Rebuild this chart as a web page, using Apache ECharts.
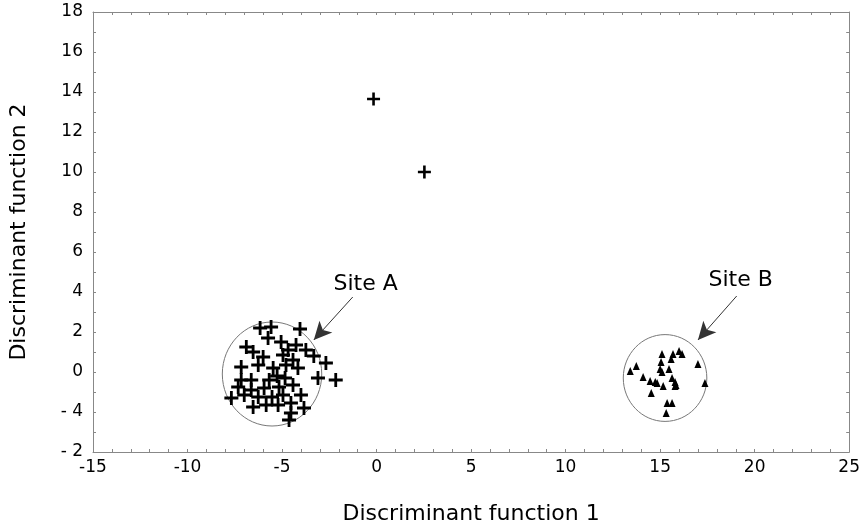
<!DOCTYPE html>
<html>
<head>
<meta charset="utf-8">
<script src="https://cdn.jsdelivr.net/npm/echarts@6/dist/echarts.min.js"></script>
<style>
html,body{margin:0;padding:0;background:#fff;}
#chart{width:863px;height:530px;}
</style>
</head>
<body>
<div id="chart"></div>
<script>
// site A samples (plus markers)
var siteA = [
	[-6.16,2.2],[-5.58,2.25],[-4.05,2.15],[-5.74,1.7],[-5.05,1.5],[-6.89,1.25],
	[-6.53,1.0],[-4.68,1.1],[-3.74,1.1],[-4.95,0.85],[-3.32,0.8],[-4.42,0.6],
	[-7.16,0.25],[-6.26,0.35],[-5.47,0.2],[-2.68,0.45],[-4.16,0.2],[-3.1,-0.3],
	[-2.16,-0.4],[-7.32,-0.75],[-6.63,-0.9],[-5.95,-0.8],[-5.16,-0.75],[-4.42,-0.65],
	[-7.0,-1.15],[-7.68,-1.3],[-6.26,-1.25],[-4.95,-1.15],[-6.53,-1.75],[-5.84,-1.65],
	[-5.21,-1.65],[-4.53,-1.55],[-3.84,-1.8],[-4.53,-2.05],[-4.63,-2.4],
	[-6.0,0.75],[-5.26,-0.2],[-4.84,-0.3],[-5.68,-0.4],[-5.53,-1.25],[-4.0,-1.15],
	[-4.79,0.35],[-6.63,-0.4],[-4.26,1.35],[-7.16,-0.4]
];
// two outliers, same marker
var outliers = [[-0.16,13.65],[2.53,10.0]];
// site B samples (triangles)
var siteB = [
	[15.1,0.9],[15.68,0.9],[16.0,1.05],[16.16,0.9],[15.05,0.5],[15.58,0.65],
	[13.74,0.3],[13.42,0.05],[15.0,0.15],[15.47,0.15],[15.1,0.0],[17.0,0.4],
	[14.1,-0.25],[14.47,-0.45],[14.74,-0.5],[14.84,-0.55],[15.63,-0.3],[15.79,-0.5],
	[15.84,-0.65],[15.16,-0.7],[15.79,-0.7],[17.37,-0.55],[14.53,-1.05],[15.37,-1.55],
	[15.63,-1.55],[15.32,-2.05]
];
// circles: centre x, centre y, radius x, radius y
var circles = [[-5.53,-0.1,2.63,2.6],[15.26,-0.3,2.21,2.17]];
// annotation texts and arrows (from -> to)
var siteNames = ['Site A','Site B'];
var namePos = [[-0.58,4.4],[19.26,4.6]];
var arrows = [[[-1.26,3.75],[-3.32,1.6]],[[19.05,3.8],[17.0,1.6]]];
// y tick labels as printed
var yTickLabels = {'18':'18','16':'16','14':'14','12':'12','10':'10','8':'8','6':'6','4':'4','2':'2','0':'0','-2':'- 4','-4':'- 2'};

var plus = 'path://M4,0h2v4h4v2h-4v4h-2v-4h-4v-2h4z';
var font = 'DejaVu Sans, sans-serif';
var frameColor = '#888';

var myChart = echarts.init(document.getElementById('chart'));

var markLineData = [];
for(var i=0;i<arrows.length;i++){
	markLineData.push([{coord:arrows[i][0]},{coord:arrows[i][1]}]);
}
var labelData = [];
for(var i=0;i<siteNames.length;i++){
	labelData.push({name:siteNames[i],value:namePos[i]});
}

var option = {
	animation:false,
	grid:{left:91,right:12,top:12,bottom:78},
	xAxis:[{
		type:'value',min:-15,max:25,interval:5,
		name:'Discriminant function 1',nameLocation:'middle',nameGap:51,
		nameTextStyle:{fontFamily:font,fontSize:22,color:'#000'},
		axisLine:{onZero:false,lineStyle:{color:frameColor,width:1}},
		axisTick:{inside:true,length:3,lineStyle:{color:frameColor}},
		minorTick:{show:true,splitNumber:5,length:3,lineStyle:{color:frameColor}},
		axisLabel:{fontFamily:font,fontSize:17,color:'#000',margin:7},
		splitLine:{show:false}
	},{
		type:'value',min:-15,max:25,interval:5,position:'top',
		axisLine:{onZero:false,lineStyle:{color:frameColor,width:1}},
		axisTick:{inside:true,length:3,lineStyle:{color:frameColor}},
		minorTick:{show:true,splitNumber:5,length:3,lineStyle:{color:frameColor}},
		axisLabel:{show:false},splitLine:{show:false}
	}],
	yAxis:[{
		type:'value',min:-4,max:18,interval:2,
		name:'Discriminant function 2',nameLocation:'middle',nameGap:63,
		nameTextStyle:{fontFamily:font,fontSize:22,color:'#000'},
		axisLine:{onZero:false,lineStyle:{color:frameColor,width:1}},
		axisTick:{inside:true,length:3,lineStyle:{color:frameColor}},
		minorTick:{show:true,splitNumber:2,length:3,lineStyle:{color:frameColor}},
		axisLabel:{fontFamily:font,fontSize:17,color:'#000',margin:10,
			formatter:function(v){return yTickLabels[String(v)];}},
		splitLine:{show:false}
	},{
		type:'value',min:-4,max:18,interval:2,position:'right',
		axisLine:{onZero:false,lineStyle:{color:frameColor,width:1}},
		axisTick:{inside:true,length:3,lineStyle:{color:frameColor}},
		minorTick:{show:true,splitNumber:2,length:3,lineStyle:{color:frameColor}},
		axisLabel:{show:false},splitLine:{show:false}
	}],
	series:[{
		type:'custom',
		data:circles,
		renderItem:function(params,api){
			var c = api.coord([api.value(0),api.value(1)]);
			var s = api.size([api.value(2),api.value(3)]);
			return {
				type:'ellipse',
				shape:{cx:c[0],cy:c[1],rx:s[0],ry:s[1]},
				style:{fill:null,stroke:'#777',lineWidth:1}
			};
		},
		silent:true,z:1
	},{
		type:'scatter',
		data:siteA,
		symbol:plus,symbolSize:14,
		itemStyle:{color:'#000',opacity:1},z:3
	},{
		type:'scatter',
		data:outliers,
		symbol:plus,symbolSize:13,
		itemStyle:{color:'#000',opacity:1},z:3
	},{
		type:'scatter',
		data:siteB,
		symbol:'triangle',symbolSize:[7,8],
		itemStyle:{color:'#000',opacity:1},z:3
	},{
		type:'scatter',
		data:labelData,
		symbolSize:0,
		itemStyle:{color:'#000',opacity:1},
		label:{show:true,position:'inside',formatter:'{b}',
			fontFamily:font,fontSize:22,color:'#000',opacity:1},
		markLine:{
			silent:true,
			symbol:['none','arrow'],symbolSize:[13,18],
			lineStyle:{color:'#333',width:1,type:'solid',opacity:1},
			label:{show:false},
			data:markLineData
		},
		z:4
	}]
};
myChart.setOption(option);
</script>
</body>
</html>
